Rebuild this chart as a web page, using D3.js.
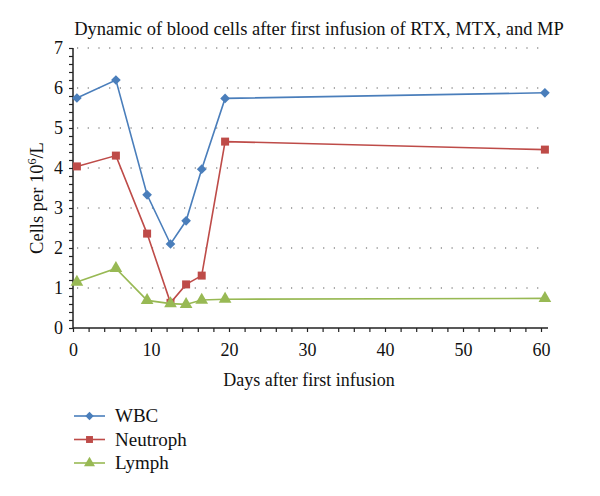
<!DOCTYPE html>
<html><head><meta charset="utf-8">
<script src="https://cdn.jsdelivr.net/npm/d3@7"></script>
<style>
body{margin:0;background:#fff;}
text{font-family:"Liberation Serif","Times New Roman",serif;fill:#111;}
</style></head>
<body><svg id="c" width="600" height="496"></svg>
<script>
const days = [0.5, 5.5, 9.5, 12.5, 14.5, 16.5, 19.5, 60.5];
const wbc = [5.75, 6.2, 3.33, 2.1, 2.68, 3.97, 5.74, 5.88];
const neutroph = [4.04, 4.31, 2.36, 0.63, 1.09, 1.31, 4.66, 4.46];
const lymph = [1.15, 1.49, 0.69, 0.61, 0.59, 0.70, 0.72, 0.74];
const seriesNames = ["WBC", "Neutroph", "Lymph"];
const yTicks = [0,1,2,3,4,5,6,7];
const xTicks = [0,10,20,30,40,50,60];

const colors = ["#4A7EBB", "#BE4B48", "#98B954"];
const symbols = [d3.symbolDiamond2 || d3.symbolDiamond, d3.symbolSquare, d3.symbolTriangle];
const symSizes = [60, 64, 70];
const seriesVals = [wbc, neutroph, lymph];

const svg = d3.select("#c");
const x = d3.scaleLinear().domain([0, 60]).range([73, 541]);
const y = d3.scaleLinear().domain([0, 7]).range([328, 48]);

// title
svg.append("text").attr("x", 319).attr("y", 35).attr("text-anchor", "middle")
  .style("font-size", "18.5px").text("Dynamic of blood cells after first infusion of RTX, MTX, and MP");

// gridlines
svg.append("g").selectAll("line").data(yTicks.filter(d => d > 0)).join("line")
  .attr("x1", x(0) + 4).attr("x2", x(60) + 1)
  .attr("y1", d => y(d)).attr("y2", d => y(d))
  .attr("stroke", "#555").attr("stroke-width", 1.1).attr("stroke-dasharray", "1.2,9.5");

// y axis
const yMinor = d3.range(0, 36).map(i => i * 0.2).filter(v => v <= 7.001);
const yAxis = d3.axisLeft(y).tickValues(yMinor).tickSize(4).tickPadding(6)
  .tickFormat(d => xTicks && yTicks.includes(Math.round(d)) && Math.abs(d - Math.round(d)) < 1e-6 ? String(Math.round(d)) : "");
const gy = svg.append("g").attr("transform", `translate(${x(0)},0)`).call(yAxis);
gy.select(".domain").attr("d", `M0,${y(0)}V${y(7)}`).attr("stroke", "#222").attr("stroke-width", 1.5);
gy.selectAll(".tick line").attr("stroke", "#222").attr("stroke-width", 1.2);
gy.selectAll(".tick text").style("font-size", "18px").style("font-family", '"Liberation Serif",serif').attr("fill", "#111");

// x axis
const xAll = d3.range(0, 31).map(i => i * 2);
const xAxis = d3.axisBottom(x).tickValues(xAll).tickSize(4).tickPadding(11)
  .tickFormat(d => xTicks.includes(d) ? String(d) : "");
const gx = svg.append("g").attr("transform", `translate(0,${y(0)})`).call(xAxis);
gx.select(".domain").attr("d", `M${x(0)},0H${x(60) + 7}`).attr("stroke", "#222").attr("stroke-width", 1.5);
gx.selectAll(".tick line").attr("stroke", "#222").attr("stroke-width", 1.2);
gx.selectAll(".tick text").style("font-size", "18px").style("font-family", '"Liberation Serif",serif').attr("fill", "#111");

// axis titles
svg.append("text").attr("x", 309).attr("y", 386).attr("text-anchor", "middle")
  .style("font-size", "18px").text("Days after first infusion");
const yt = svg.append("text").attr("transform", "translate(43,198) rotate(-90)").attr("text-anchor", "middle")
  .style("font-size", "18.5px");
yt.append("tspan").text("Cells per 10");
yt.append("tspan").attr("dy", -7).style("font-size", "12px").text("6");
yt.append("tspan").attr("dy", 7).text("/L");

// lines and markers
const line = d3.line().x((d, i) => x(days[i])).y(d => y(d));
seriesVals.forEach((vals, s) => {
  svg.append("path").attr("d", line(vals)).attr("fill", "none")
    .attr("stroke", colors[s]).attr("stroke-width", 1.6);
  svg.append("g").selectAll("path").data(vals).join("path")
    .attr("transform", (d, i) => `translate(${x(days[i])},${y(d)})`)
    .attr("d", d3.symbol().type(symbols[s]).size(symSizes[s]))
    .attr("fill", colors[s]);
});

// legend
const lg = svg.append("g");
seriesNames.forEach((n, i) => {
  const yy = 416 + i * 23.5;
  lg.append("line").attr("x1", 74).attr("x2", 105).attr("y1", yy).attr("y2", yy)
    .attr("stroke", colors[i]).attr("stroke-width", 1.6);
  lg.append("path").attr("transform", `translate(89.5,${yy})`)
    .attr("d", d3.symbol().type(symbols[i]).size(symSizes[i] * 0.75)).attr("fill", colors[i]);
  lg.append("text").attr("x", 115).attr("y", yy + 6).style("font-size", "19px").text(n);
});
</script></body></html>
